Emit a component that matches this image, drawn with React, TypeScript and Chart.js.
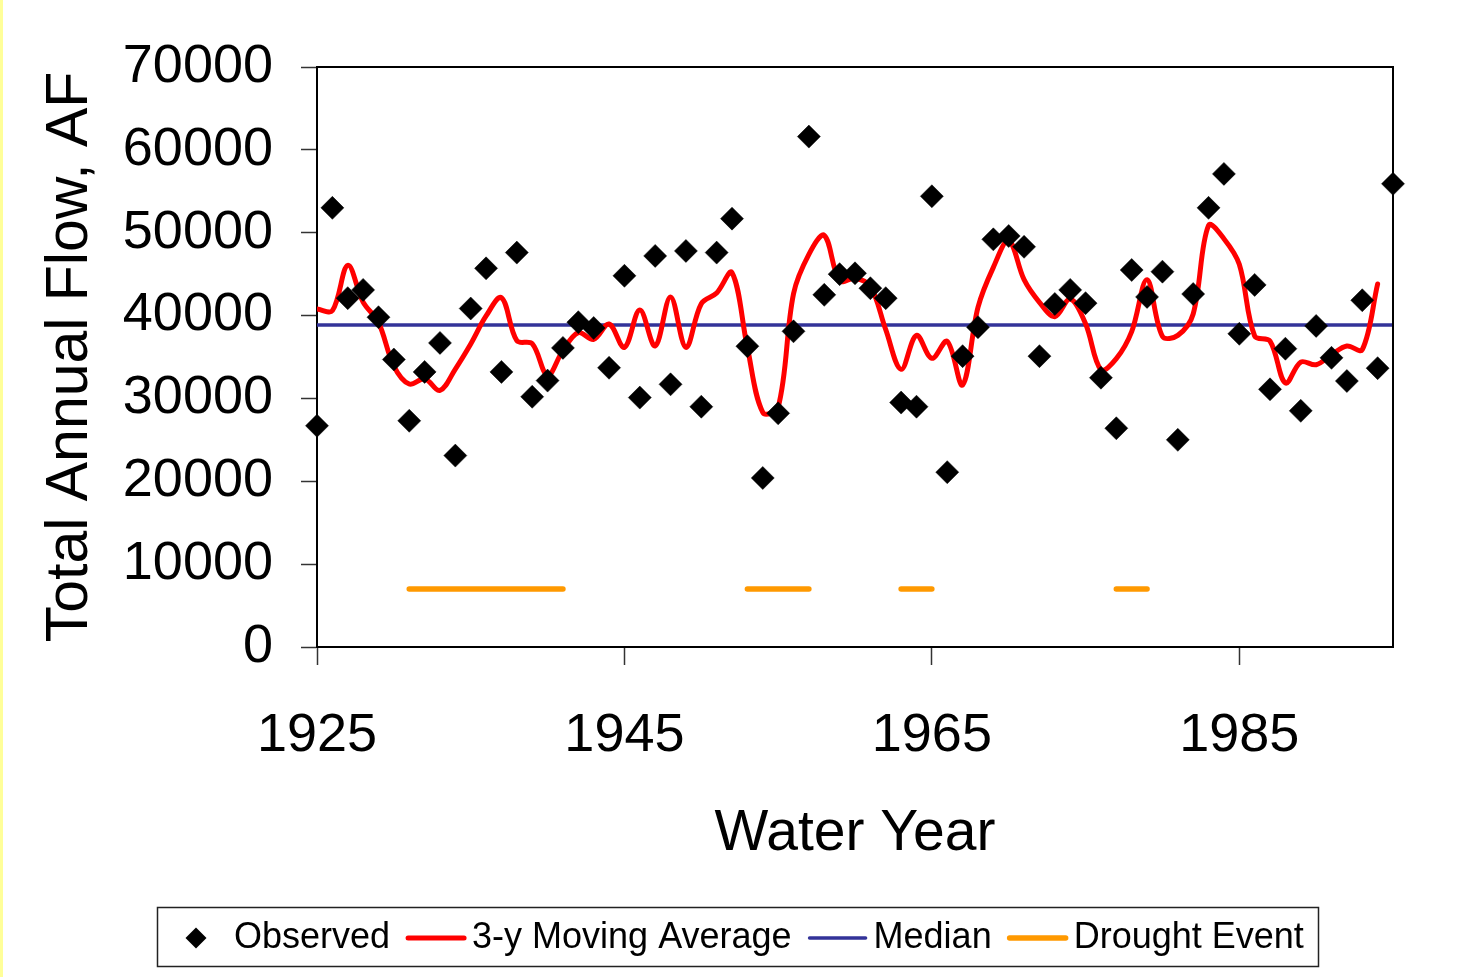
import React, { useEffect, useRef } from 'react';
import { Chart, registerables } from 'chart.js';

Chart.register(...registerables);

// ---------- data ----------
const years = [
  1925, 1926, 1927, 1928, 1929, 1930, 1931, 1932, 1933, 1934,
  1935, 1936, 1937, 1938, 1939, 1940, 1941, 1942, 1943, 1944,
  1945, 1946, 1947, 1948, 1949, 1950, 1951, 1952, 1953, 1954,
  1955, 1956, 1957, 1958, 1959, 1960, 1961, 1962, 1963, 1964,
  1965, 1966, 1967, 1968, 1969, 1970, 1971, 1972, 1973, 1974,
  1975, 1976, 1977, 1978, 1979, 1980, 1981, 1982, 1983, 1984,
  1985, 1986, 1987, 1988, 1989, 1990, 1991, 1992, 1993, 1994, 1995,
];

const observed = [
  26700, 53000, 42100, 43100, 39800, 34700, 27300, 33200, 36700, 23100,
  40850, 45700, 33200, 47600, 30200, 32150, 36100, 39200, 38500, 33700,
  44800, 30100, 47200, 31700, 47800, 29000, 47600, 51700, 36300, 20400,
  28200, 38100, 61600, 42500, 45000, 45100, 43300, 42100, 29500, 29000,
  54400, 21100, 35100, 38600, 49200, 49600, 48300, 35100, 41400, 43100,
  41500, 32500, 26400, 45500, 42250, 45300, 25000, 42600, 53000, 57100,
  37800, 43700, 31100, 36000, 28500, 38750, 34900, 32100, 41850, 33650, 55900,
];

// 3-y moving average, 1925 - 1994
const movingAvg = [
  40800, 40590, 46060, 41630, 39180, 33910, 31740, 32380, 30980, 33550,
  36570, 39950, 42160, 36970, 36610, 32790, 35800, 37940, 37130, 38980,
  36160, 40670, 36330, 42240, 36160, 41430, 42720, 45180, 36130, 28320,
  28930, 42640, 47390, 49680, 44210, 44500, 43530, 38300, 33510, 37610,
  34840, 36890, 31620, 40990, 45820, 49040, 44330, 41600, 39870, 42000,
  39020, 33470, 34800, 38060, 44330, 37490, 37610, 40190, 50890, 49280,
  46180, 37530, 36930, 31860, 34390, 34070, 35280, 36330, 35880, 43810,
];
const movingAvgYears = years.slice(0, movingAvg.length);

const medianFlow = 38850;

const droughtStart = [1931, 1953, 1963, 1977];
const droughtEnd = [1941, 1957, 1965, 1979];
const droughtLevel = 7000;

const xTicks = [1925, 1945, 1965, 1985];
const xMin = 1925;
const xMax = 1995;
const yMin = 0;
const yMax = 70000;
const yStep = 10000;

const seriesLabels = ['Observed', '3-y Moving Average', 'Median', 'Drought Event'];
const xTitle = 'Water Year';
const yTitle = 'Total Annual Flow, AF';

// ---------- styles ----------
const FONT = '"Liberation Sans", Arial, Helvetica, sans-serif';
const RED = '#FF0000';
const BLUE = '#333399';
const ORANGE = '#FF9900';
const DIAMOND_R = 11.5;

const frameAndLegend = {
  id: 'frameAndLegend',
  afterDraw(chart: any) {
    const { ctx, chartArea: a } = chart;
    ctx.save();
    // top & right frame
    ctx.strokeStyle = '#000';
    ctx.lineWidth = 2;
    ctx.beginPath();
    ctx.moveTo(a.left, a.top);
    ctx.lineTo(a.right, a.top);
    ctx.lineTo(a.right, a.bottom);
    ctx.stroke();

    // legend box
    const bx = 157, by = 907, bw = 1161, bh = 59;
    ctx.lineWidth = 1.5;
    ctx.strokeStyle = '#222';
    ctx.strokeRect(bx + 0.5, by + 0.5, bw, bh);

    ctx.font = '36px ' + FONT;
    ctx.textBaseline = 'middle';
    ctx.textAlign = 'left';
    ctx.fillStyle = '#000';
    const cy = by + 31;
    let x = bx + 11;
    chart.data.datasets.forEach((ds: any) => {
      if (ds.showLine === false) {
        const cx = x + 28;
        const r = 10.5;
        ctx.beginPath();
        ctx.moveTo(cx - r, cy);
        ctx.lineTo(cx, cy - r);
        ctx.lineTo(cx + r, cy);
        ctx.lineTo(cx, cy + r);
        ctx.closePath();
        ctx.fillStyle = '#000';
        ctx.fill();
      } else {
        ctx.beginPath();
        ctx.strokeStyle = ds.borderColor;
        ctx.lineWidth = ds.borderWidth;
        ctx.lineCap = 'round';
        ctx.moveTo(x + 2, cy);
        ctx.lineTo(x + 58, cy);
        ctx.stroke();
      }
      x += 66;
      ctx.fillStyle = '#000';
      ctx.fillText(ds.label, x, cy);
      x += ctx.measureText(ds.label).width + 16;
    });
    ctx.restore();
  },
};

export default function App() {
  const canvasRef = useRef<HTMLCanvasElement | null>(null);

  useEffect(() => {
    const canvas = canvasRef.current;
    if (!canvas) return;

    const droughtData: any[] = [];
    droughtStart.forEach((s, i) => {
      droughtData.push({ x: s, y: droughtLevel });
      droughtData.push({ x: droughtEnd[i], y: droughtLevel });
      droughtData.push({ x: droughtEnd[i], y: null });
    });

    const chart = new Chart(canvas, {
      type: 'line',
      data: {
        datasets: [
          {
            label: seriesLabels[0],
            data: years.map((yr, i) => ({ x: yr, y: observed[i] })),
            showLine: false,
            pointStyle: 'rectRot',
            pointRadius: DIAMOND_R,
            backgroundColor: '#000',
            borderColor: '#000',
            borderWidth: 0.5,
            clip: false as any,
          },
          {
            label: seriesLabels[1],
            data: movingAvgYears.map((yr, i) => ({ x: yr, y: movingAvg[i] })),
            borderColor: RED,
            backgroundColor: RED,
            borderWidth: 5,
            tension: 0.35,
            pointRadius: 0,
            borderCapStyle: 'round',
            borderJoinStyle: 'round',
          },
          {
            label: seriesLabels[2],
            data: [
              { x: xMin, y: medianFlow },
              { x: xMax, y: medianFlow },
            ],
            borderColor: BLUE,
            backgroundColor: BLUE,
            borderWidth: 3.5,
            pointRadius: 0,
          },
          {
            label: seriesLabels[3],
            data: droughtData,
            borderColor: ORANGE,
            backgroundColor: ORANGE,
            borderWidth: 5.5,
            pointRadius: 0,
            spanGaps: false,
            borderCapStyle: 'round',
          },
        ],
      },
      options: {
        responsive: false,
        animation: false,
        devicePixelRatio: 1,
        events: [],
        layout: { padding: { left: 0, top: 67, right: 84, bottom: 87 } },
        plugins: {
          legend: { display: false },
          tooltip: { enabled: false },
          title: { display: false },
        },
        scales: {
          x: {
            type: 'linear',
            min: xMin,
            max: xMax,
            afterBuildTicks: (scale: any) => {
              scale.ticks = xTicks.map((v) => ({ value: v }));
            },
            afterFit: (scale: any) => {
              scale.height = 243;
            },
            grid: {
              drawOnChartArea: false,
              drawTicks: true,
              tickLength: 18,
              tickColor: '#333',
              tickWidth: 1.5,
            },
            border: { display: true, color: '#000', width: 2 },
            ticks: {
              color: '#000',
              font: { family: FONT, size: 54 },
              padding: 39,
              maxRotation: 0,
              autoSkip: false,
              callback: (v: any) => String(v),
            },
            title: {
              display: true,
              text: xTitle,
              color: '#000',
              font: { family: FONT, size: 57 },
              padding: { top: 0, bottom: 22 },
            },
          },
          y: {
            type: 'linear',
            min: yMin,
            max: yMax,
            afterFit: (scale: any) => {
              scale.width = 317;
            },
            grid: {
              drawOnChartArea: false,
              drawTicks: true,
              tickLength: 16,
              tickColor: '#333',
              tickWidth: 1.5,
            },
            border: { display: true, color: '#000', width: 2 },
            ticks: {
              stepSize: yStep,
              color: '#000',
              font: { family: FONT, size: 54 },
              padding: 28,
              callback: (v: any) => String(v),
            },
            title: {
              display: true,
              text: yTitle,
              color: '#000',
              font: { family: FONT, size: 59 },
              padding: { top: 35, bottom: 0 },
            },
          },
        },
      },
      plugins: [frameAndLegend],
    } as any);

    return () => {
      chart.destroy();
    };
  }, []);

  return (
    <div
      style={{
        position: 'fixed',
        left: 0,
        top: 0,
        width: 1477,
        height: 977,
        background: '#fff',
        overflow: 'hidden',
      }}
    >
      <div
        style={{
          position: 'absolute',
          left: 0,
          top: 0,
          width: 3,
          height: 977,
          background: '#FFFF99',
        }}
      />
      <canvas
        ref={canvasRef}
        width={1477}
        height={977}
        style={{ display: 'block', width: 1477, height: 977 }}
      />
    </div>
  );
}
